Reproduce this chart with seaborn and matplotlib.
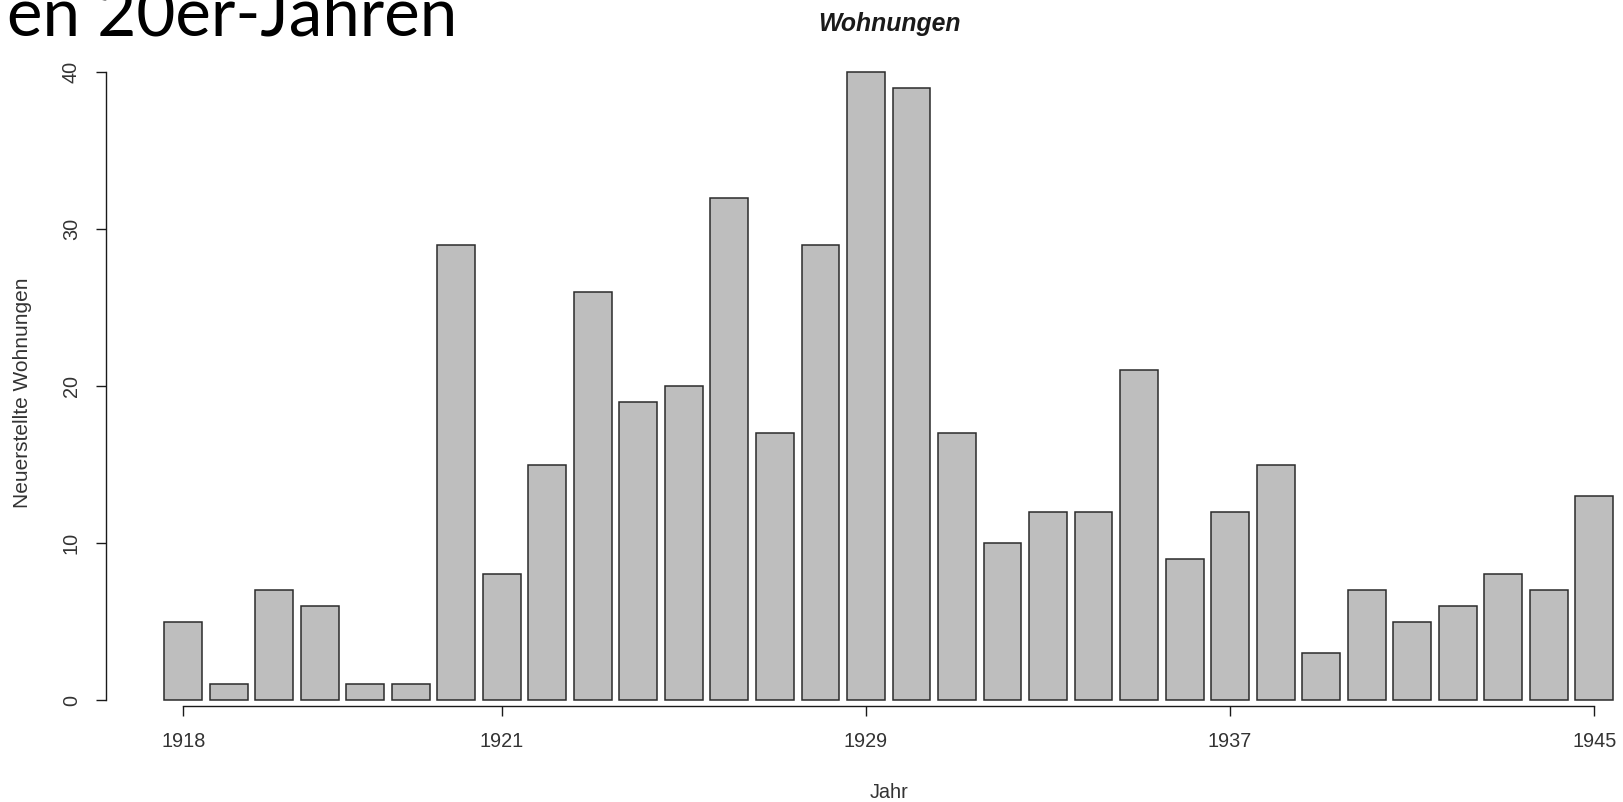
import pandas as pd
import matplotlib
matplotlib.use("Agg")
import matplotlib.pyplot as plt
import seaborn as sns

# Werte (32 Balken)
wohnungen = [5, 1, 7, 6, 1, 1, 29, 8, 15, 26, 19, 20, 32, 17, 29, 40,
             39, 17, 10, 12, 12, 21, 9, 12, 15, 3, 7, 5, 6, 8, 7, 13]
balken = [f"b{i}" for i in range(len(wohnungen))]
tick_labels = ["1918", "1921", "1929", "1937", "1945"]
tick_balken = [0, 7, 15, 23, 31]

df = pd.DataFrame({"balken": balken, "wohnungen": wohnungen})

sns.set_style("white")
plt.rcParams['font.family'] = ['Liberation Sans', 'DejaVu Sans']

fig = plt.figure(figsize=(16.24, 8.02), dpi=100)
ax = fig.add_axes([106 / 1624, 1 - 706 / 802, 1510.9 / 1624, 658.8 / 802])

sns.barplot(data=df, x="balken", y="wohnungen", order=balken,
            color="#bebebe", saturation=1, width=0.833,
            edgecolor="#2b2b2b", linewidth=1.1, ax=ax)

ax.set_xlim(-1.699, 31.5)
ax.set_ylim(-0.382, 41.6)

for s in ["top", "right"]:
    ax.spines[s].set_visible(False)
ax.spines["left"].set_bounds(0, 40)
ax.spines["bottom"].set_bounds(0, 31)
for s in ["left", "bottom"]:
    ax.spines[s].set_color("#1a1a1a")
    ax.spines[s].set_linewidth(1.0)

ax.set_xticks(tick_balken)
ax.set_xticklabels(tick_labels)
ax.set_yticks([0, 10, 20, 30, 40])
ax.set_yticklabels(["0", "10", "20", "30", "40"], rotation=90, va="center")
ax.tick_params(axis="x", length=7.5, width=1.0, pad=11, labelsize=14.3,
               colors="#1a1a1a", labelcolor="#333333", bottom=True)
ax.tick_params(axis="y", length=7.5, width=1.0, pad=10.5, labelsize=14.3,
               colors="#1a1a1a", labelcolor="#333333", left=True)
ax.set_xlabel("")
ax.set_ylabel("")
ax.grid(False)

fig.text(889 / 1624, 1 - 24 / 802, "Wohnungen", ha="center", va="center",
         fontsize=17.8, fontweight="bold", fontstyle="italic", color="#1a1a1a")
fig.text(889 / 1624, 1 - 793 / 802, "Jahr", ha="center", va="center",
         fontsize=14.3, color="#333333")
fig.text(23 / 1624, 1 - 393 / 802, "Neuerstellte Wohnungen", ha="center",
         va="center", rotation=90, fontsize=15, color="#333333")
fig.text(7 / 1624, 1 - 35 / 802, "en 20er-Jahren", ha="left", va="baseline",
         fontsize=48.5, family=["Lato", "DejaVu Sans"], color="black")

fig.savefig("out.png", dpi=100)
